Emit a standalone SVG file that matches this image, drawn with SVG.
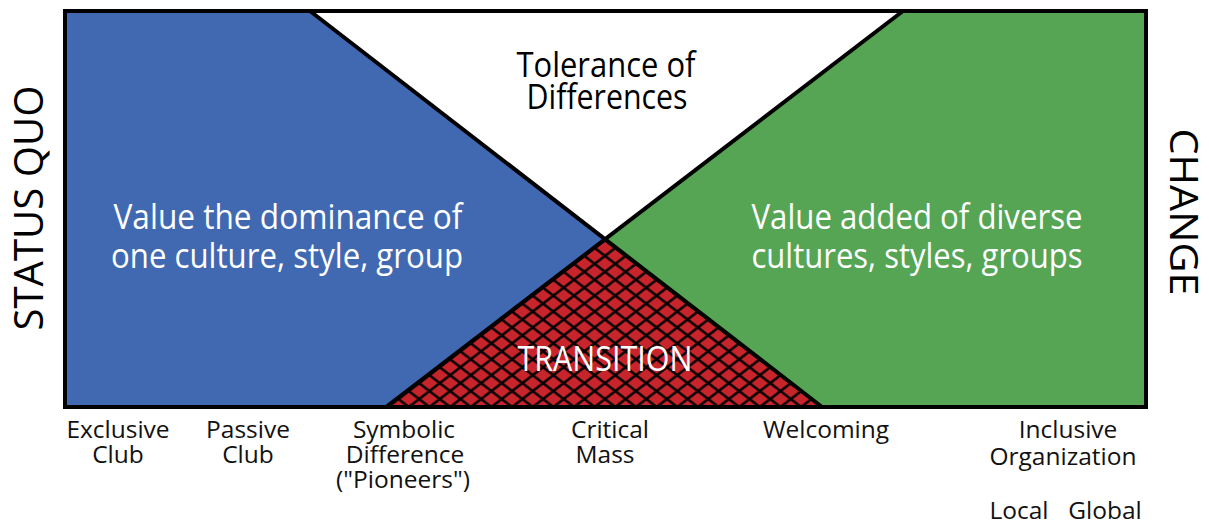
<svg xmlns="http://www.w3.org/2000/svg" width="1209" height="525" viewBox="0 0 1209 525">
  <style>
    .t { font-family: "Open Sans", "Noto Sans", "Liberation Sans", sans-serif; }
    .big { font-size: 34px; fill: #ffffff; text-anchor: middle; }
    .title { font-size: 34px; fill: #000000; text-anchor: middle; }
    .lbl { font-size: 24.5px; fill: #111111; text-anchor: middle; }
    .side { font-size: 40px; fill: #000000; text-anchor: middle; }
    .edge { stroke: #000000; stroke-width: 4; fill: none; }
    .hatch { stroke: #000000; stroke-width: 2.2; }
  </style>
  <defs>
    <pattern id="hatchA" patternUnits="userSpaceOnUse" width="40" height="12.6" patternTransform="translate(605,240) rotate(37.6) translate(0,-6.3)">
      <line class="hatch" x1="0" y1="6.3" x2="40" y2="6.3"/>
    </pattern>
    <pattern id="hatchB" patternUnits="userSpaceOnUse" width="40" height="12.6" patternTransform="translate(605,240) rotate(-37.6) translate(0,-6.3)">
      <line class="hatch" x1="0" y1="6.3" x2="40" y2="6.3"/>
    </pattern>
  </defs>
  <rect x="0" y="0" width="1209" height="525" fill="#ffffff"/>

  <g id="status-quo-region">
    <polygon points="65,11 310,11 605,240 386,407 65,407" fill="#4169B2"/>
    <text class="t big" x="288" y="229" textLength="349" lengthAdjust="spacingAndGlyphs">Value the dominance of</text>
    <text class="t big" x="287" y="268" textLength="352" lengthAdjust="spacingAndGlyphs">one culture, style, group</text>
  </g>

  <g id="tolerance-region">
    <polygon points="310,11 903,11 605,240" fill="#ffffff"/>
    <text class="t title" x="606" y="77" textLength="179" lengthAdjust="spacingAndGlyphs">Tolerance of</text>
    <text class="t title" x="607" y="109" textLength="161" lengthAdjust="spacingAndGlyphs">Differences</text>
  </g>

  <g id="change-region">
    <polygon points="903,11 1146,11 1146,407 822,407 605,240" fill="#56A554"/>
    <text class="t big" x="917" y="229" textLength="331" lengthAdjust="spacingAndGlyphs">Value added of diverse</text>
    <text class="t big" x="917" y="268" textLength="331" lengthAdjust="spacingAndGlyphs">cultures, styles, groups</text>
  </g>

  <g id="transition-region">
    <polygon points="605,240 822,407 386,407" fill="#C8242B"/>
    <polygon points="605,240 822,407 386,407" fill="url(#hatchA)"/>
    <polygon points="605,240 822,407 386,407" fill="url(#hatchB)"/>
    <text class="t big" x="605" y="371" textLength="175" lengthAdjust="spacingAndGlyphs">TRANSITION</text>
  </g>

  <g id="connectors">
    <line class="edge" x1="310" y1="11" x2="822" y2="407"/>
    <line class="edge" x1="903" y1="11" x2="386" y2="407"/>
    <rect class="edge" x="65" y="11" width="1081" height="396"/>
  </g>

  <g id="axis-status-quo">
    <text class="t side" transform="translate(43,208) rotate(-90)" textLength="245" lengthAdjust="spacingAndGlyphs">STATUS QUO</text>
  </g>
  <g id="axis-change">
    <text class="t side" style="font-size:38px" transform="translate(1170,212) rotate(90)" textLength="167" lengthAdjust="spacingAndGlyphs">CHANGE</text>
  </g>

  <g id="stage-exclusive-club">
    <text class="t lbl" x="118" y="438">Exclusive</text>
    <text class="t lbl" x="118" y="463">Club</text>
  </g>
  <g id="stage-passive-club">
    <text class="t lbl" x="248" y="438">Passive</text>
    <text class="t lbl" x="248" y="463">Club</text>
  </g>
  <g id="stage-symbolic-difference">
    <text class="t lbl" x="404" y="438">Symbolic</text>
    <text class="t lbl" x="405" y="463">Difference</text>
    <text class="t lbl" x="403" y="488">("Pioneers")</text>
  </g>
  <g id="stage-critical-mass">
    <text class="t lbl" x="610" y="438">Critical</text>
    <text class="t lbl" x="605" y="463">Mass</text>
  </g>
  <g id="stage-welcoming">
    <text class="t lbl" x="826" y="438">Welcoming</text>
  </g>
  <g id="stage-inclusive-organization">
    <text class="t lbl" x="1068" y="438">Inclusive</text>
    <text class="t lbl" x="1063" y="465">Organization</text>
    <text class="t lbl" x="1019" y="519">Local</text>
    <text class="t lbl" x="1105" y="519">Global</text>
  </g>
</svg>
